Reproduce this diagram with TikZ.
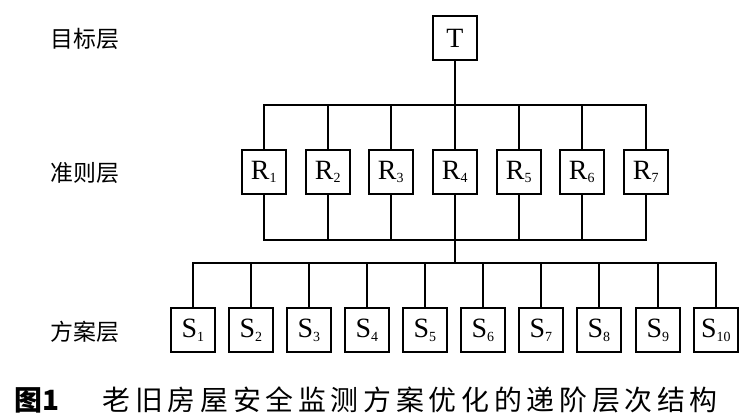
\documentclass[tikz,border=0pt]{standalone}
\usepackage{fontspec}
\setmainfont{Liberation Serif}
\newfontfamily\cjk{Noto Sans CJK SC}
\usetikzlibrary{positioning,calc}
\newcommand{\idx}[1]{\textsubscript{\fontsize{14}{14}\selectfont#1}}
\tikzset{
  lvl/.style  ={font=\cjk\fontsize{23}{23}\selectfont, anchor=center},
  box/.style  ={draw=black, line width=2bp, minimum width=44bp, minimum height=44bp,
                inner sep=0pt, font=\fontsize{28}{28}\selectfont},
  link/.style ={line width=2bp, draw=black},
  capn/.style ={font=\cjk\bfseries\fontsize{28}{28}\selectfont, anchor=west},
  capt/.style ={font=\cjk\addfontfeatures{LetterSpace=17}\fontsize{28}{28}\selectfont, anchor=west},
}

\begin{document}
\begin{tikzpicture}[x=1bp,y=-1bp]
  \useasboundingbox (0,0) rectangle (750,415);

  % ---- level names ----
  \node[lvl] (lt) at (85,39)  {目标层};
  \node[lvl] (lr) at (85,173) {准则层};
  \node[lvl] (ls) at (85,332) {方案层};

  % ---- goal ----
  \node[box] (T) at (455,38) {T};

  % ---- criteria ----
  \node[box] (R1) at (264,172) {R\idx{1}};
  \node[box] (R2) at (328,172) {R\idx{2}};
  \node[box] (R3) at (391,172) {R\idx{3}};
  \node[box] (R4) at (455,172) {R\idx{4}};
  \node[box] (R5) at (519,172) {R\idx{5}};
  \node[box] (R6) at (582,172) {R\idx{6}};
  \node[box] (R7) at (646,172) {R\idx{7}};

  % ---- alternatives ----
  \node[box] (S1)  at (193,330) {S\idx{1}};
  \node[box] (S2)  at (251,330) {S\idx{2}};
  \node[box] (S3)  at (309,330) {S\idx{3}};
  \node[box] (S4)  at (367,330) {S\idx{4}};
  \node[box] (S5)  at (425,330) {S\idx{5}};
  \node[box] (S6)  at (483,330) {S\idx{6}};
  \node[box] (S7)  at (541,330) {S\idx{7}};
  \node[box] (S8)  at (599,330) {S\idx{8}};
  \node[box] (S9)  at (658,330) {S\idx{9}};
  \node[box] (S10) at (716,330) {S\idx{10}};

  % ---- bus points ----
  \coordinate (tb) at (455,105);
  \coordinate (bb) at (455,240);
  \coordinate (sb) at (455,263);

  % ---- T to criteria ----
  \draw[link] (T.south) -- (tb);
  \draw[link] (R1.north) |- (tb) -| (R7.north);
  \draw[link] (R2.north) -- (R2.north |- tb);
  \draw[link] (R3.north) -- (R3.north |- tb);
  \draw[link] (R4.north) -- (R4.north |- tb);
  \draw[link] (R5.north) -- (R5.north |- tb);
  \draw[link] (R6.north) -- (R6.north |- tb);

  % ---- criteria to alternatives ----
  \draw[link] (R1.south) |- (bb) -| (R7.south);
  \draw[link] (R2.south) -- (R2.south |- bb);
  \draw[link] (R3.south) -- (R3.south |- bb);
  \draw[link] (R5.south) -- (R5.south |- bb);
  \draw[link] (R6.south) -- (R6.south |- bb);
  \draw[link] (R4.south) -- (sb);
  \draw[link] (S1.north) |- (sb) -| (S10.north);
  \draw[link] (S2.north) -- (S2.north |- sb);
  \draw[link] (S3.north) -- (S3.north |- sb);
  \draw[link] (S4.north) -- (S4.north |- sb);
  \draw[link] (S5.north) -- (S5.north |- sb);
  \draw[link] (S6.north) -- (S6.north |- sb);
  \draw[link] (S7.north) -- (S7.north |- sb);
  \draw[link] (S8.north) -- (S8.north |- sb);
  \draw[link] (S9.north) -- (S9.north |- sb);

  % ---- caption ----
  \node[capn] (fig) at (11,400) {图1};
  \node[capt] (cap) at (99,400) {老旧房屋安全监测方案优化的递阶层次结构};

\end{tikzpicture}
\end{document}
